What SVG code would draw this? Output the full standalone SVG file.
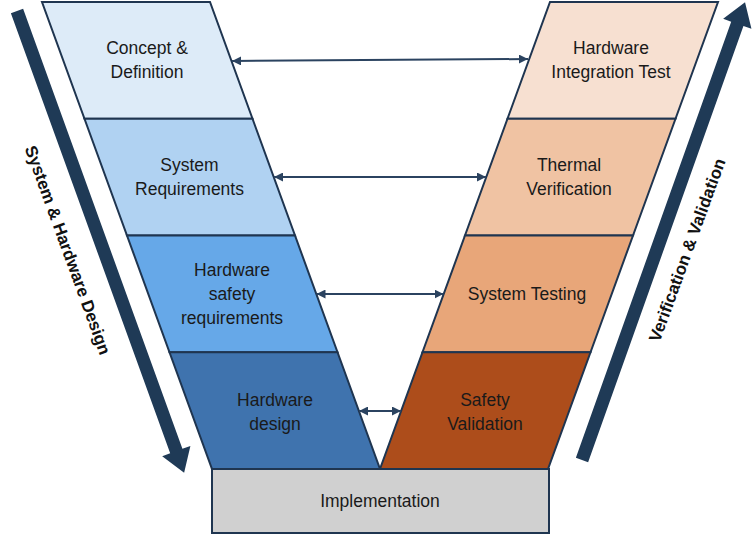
<svg xmlns="http://www.w3.org/2000/svg" width="756" height="535" viewBox="0 0 756 535">
<style>
  .blk{stroke:#1f3550;stroke-width:2;stroke-linejoin:miter}
  .lbl{font-family:"Liberation Sans",Arial,sans-serif;font-size:17.5px;fill:#1a1a1a;text-anchor:middle}
  .side{font-family:"Liberation Sans",Arial,sans-serif;font-size:17px;font-weight:bold;fill:#111;text-anchor:middle}
  .big{fill:#1f3a56}
  .con{stroke:#2b4360;stroke-width:2;fill:none;marker-start:url(#ah);marker-end:url(#ah)}
</style>
<defs>
  <marker id="ah" viewBox="0 0 10 10" refX="10" refY="5" markerWidth="9" markerHeight="9" markerUnits="userSpaceOnUse" orient="auto-start-reverse">
    <path d="M0,0 L10,5 L0,10 z" fill="#2b4360"/>
  </marker>
</defs>
<rect width="756" height="535" fill="#ffffff"/>

<g id="arrow-design">
  <polygon class="big" transform="translate(17,11) rotate(70.1)" points="0,-6.5 468,-6.5 468,-15 491,0 468,15 468,6.5 0,6.5"/>
  <text class="side" transform="translate(68,250) rotate(70)" dy="6">System &amp; Hardware Design</text>
</g>
<g id="arrow-vv">
  <polygon class="big" transform="translate(582,460) rotate(-70.4)" points="0,-6.5 463,-6.5 463,-15 486,0 463,15 463,6.5 0,6.5"/>
  <text class="side" transform="translate(687,250) rotate(-70)" dy="6">Verification &amp; Validation</text>
</g>

<g id="concept">
  <polygon class="blk" fill="#ddebf8" points="42,2 210,2 252.5,118.75 84.5,118.75"/>
  <text class="lbl" x="147" y="54">Concept &amp;</text>
  <text class="lbl" x="147" y="78">Definition</text>
</g>
<g id="sysreq">
  <polygon class="blk" fill="#b0d2f2" points="84.5,118.75 252.5,118.75 295,235.5 127,235.5"/>
  <text class="lbl" x="189.5" y="171">System</text>
  <text class="lbl" x="189.5" y="195">Requirements</text>
</g>
<g id="hwsafety">
  <polygon class="blk" fill="#66a8e8" points="127,235.5 295,235.5 337.5,352.25 169.5,352.25"/>
  <text class="lbl" x="232" y="276">Hardware</text>
  <text class="lbl" x="232" y="300">safety</text>
  <text class="lbl" x="232" y="324">requirements</text>
</g>
<g id="hwdesign">
  <polygon class="blk" fill="#3f73ae" points="169.5,352.25 337.5,352.25 380,469 212,469"/>
  <text class="lbl" x="275" y="406">Hardware</text>
  <text class="lbl" x="275" y="430">design</text>
</g>

<g id="hwint">
  <polygon class="blk" fill="#f7e0d1" points="550,2 718,2 675.5,118.75 507.5,118.75"/>
  <text class="lbl" x="611" y="54">Hardware</text>
  <text class="lbl" x="611" y="78">Integration Test</text>
</g>
<g id="thermal">
  <polygon class="blk" fill="#f0c3a3" points="507.5,118.75 675.5,118.75 633,235.5 465,235.5"/>
  <text class="lbl" x="569" y="171">Thermal</text>
  <text class="lbl" x="569" y="195">Verification</text>
</g>
<g id="systest">
  <polygon class="blk" fill="#e8a679" points="465,235.5 633,235.5 590.5,352.25 422.5,352.25"/>
  <text class="lbl" x="527" y="300">System Testing</text>
</g>
<g id="safetyval">
  <polygon class="blk" fill="#ad4d1b" points="422.5,352.25 590.5,352.25 548,469 380,469"/>
  <text class="lbl" x="485" y="406">Safety</text>
  <text class="lbl" x="485" y="430">Validation</text>
</g>

<g id="implementation">
  <rect class="blk" fill="#d0d0d0" x="212" y="469" width="337" height="64"/>
  <text class="lbl" x="380" y="507">Implementation</text>
</g>

<g id="connectors">
  <line class="con" x1="232" y1="61" x2="528" y2="59"/>
  <line class="con" x1="274" y1="177" x2="486" y2="177"/>
  <line class="con" x1="316.5" y1="294" x2="443.5" y2="294"/>
  <line class="con" x1="359" y1="411" x2="401" y2="411"/>
</g>
</svg>
